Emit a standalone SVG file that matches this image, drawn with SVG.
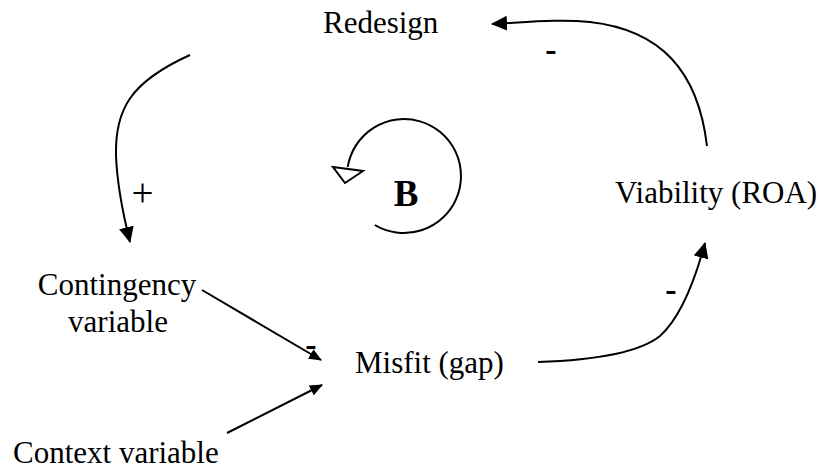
<svg xmlns="http://www.w3.org/2000/svg" width="826" height="470" viewBox="0 0 826 470">
  <defs>
    <marker id="ah" markerUnits="userSpaceOnUse" markerWidth="16" markerHeight="15" viewBox="0 0 16 15" refX="15" refY="7.5" orient="auto">
      <path d="M0,0 L16,7.5 L0,15 z" fill="#000"/>
    </marker>
    <marker id="ahs" markerUnits="userSpaceOnUse" markerWidth="13" markerHeight="11" viewBox="0 0 13 11" refX="12" refY="5.5" orient="auto">
      <path d="M0,0 L13,5.5 L0,11 z" fill="#000"/>
    </marker>
  </defs>
  <style>
    .t { font-family: "Liberation Serif", "Times New Roman", serif; font-size: 31px; fill: #000; }
    .sign { font-family: "Liberation Serif", "Times New Roman", serif; font-size: 34px; font-weight: bold; fill: #000; text-anchor: middle; }
    .c { fill: none; stroke: #000; stroke-width: 2; }
  </style>
  <rect width="826" height="470" fill="#fff"/>

  <g id="connectors">
    <path class="c" d="M707,146 C698,70 660,30 590,22 C560,19 530,22 492,24" marker-end="url(#ah)"/>
    <path class="c" d="M190,55 C130,82 115,110 116,155 C117,185 122,210 130,242" marker-end="url(#ah)"/>
    <path class="c" d="M202,290 L321,360" marker-end="url(#ahs)"/>
    <path class="c" d="M227,433 L322,385" marker-end="url(#ahs)"/>
    <path class="c" d="M538,362 C600,360 640,352 660,336 C680,318 695,280 705,243" marker-end="url(#ah)"/>
    <text class="sign" x="551" y="61">-</text>
    <text class="t" x="142.5" y="206" text-anchor="middle" style="font-size:39px">+</text>
    <text class="sign" x="311" y="356">-</text>
    <text class="sign" x="671" y="300.5">-</text>
  </g>

  <g id="loop">
    <path class="c" d="M374.8,225 A57,57 0 1 0 347.7,167"/>
    <polygon points="333,167 363,171 345,183" fill="#fff" stroke="#000" stroke-width="2" stroke-linejoin="miter"/>
    <text x="406" y="206" text-anchor="middle" style="font-family:'Liberation Serif','Times New Roman',serif;font-size:37px;font-weight:bold">B</text>
  </g>

  <g id="redesign"><text class="t" x="323" y="33">Redesign</text></g>
  <g id="viability"><text class="t" x="615" y="203">Viability (ROA)</text></g>
  <g id="contingency">
    <text class="t" x="117" y="295" text-anchor="middle">Contingency</text>
    <text class="t" x="118" y="332" text-anchor="middle">variable</text>
  </g>
  <g id="misfit"><text class="t" x="355" y="373">Misfit (gap)</text></g>
  <g id="context"><text class="t" x="13" y="463">Context variable</text></g>
</svg>
